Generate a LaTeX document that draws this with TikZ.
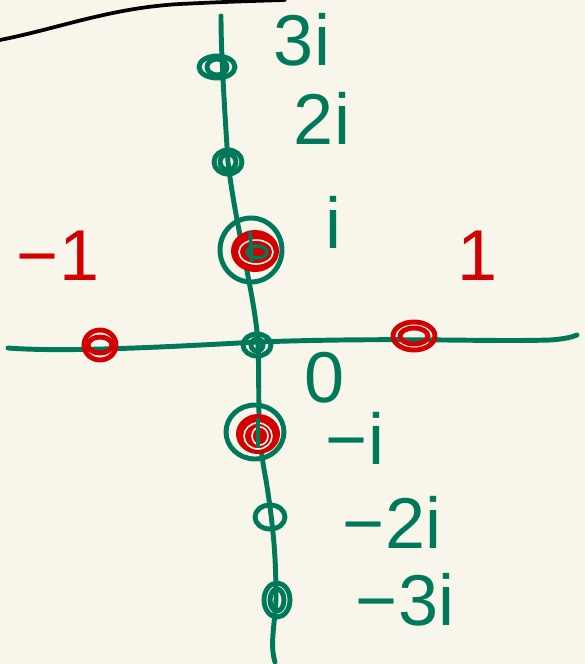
\documentclass[tikz,border=0pt]{standalone}
\usepackage{fontspec}
\setmainfont{Liberation Sans}
\definecolor{bg}{HTML}{F8F6EA}
\definecolor{pen}{HTML}{00785A}
\definecolor{rpen}{HTML}{D20000}
\tikzset{
  gstroke/.style={draw=pen,line width=3.7pt,line cap=round,line join=round},
  rstroke/.style={draw=rpen,line width=3.7pt,line cap=round,line join=round},
  glabel/.style={text=pen,font=\fontsize{54}{54}\selectfont,inner sep=0pt},
  rlabel/.style={text=rpen,font=\fontsize{54}{54}\selectfont,inner sep=0pt},
}
\begin{document}
\begin{tikzpicture}[x=0.75pt,y=-0.75pt]
\fill[bg] (0,0) rectangle (585,664);
\useasboundingbox (0,0) rectangle (585,664);
% black curve
\draw[black,line width=2.8pt,line cap=round] (0,40) .. controls (60,28) and (110,8) .. (180,4) .. controls (220,2) and (250,1) .. (285,0);
% axes
\coordinate (vtop) at (221,16);
\coordinate (vbot) at (275,662);
\coordinate (hl) at (8,348);
\coordinate (hr) at (577,335);
\draw[gstroke] (vtop) .. controls (221,40) and (222,70) .. (228,162)
  .. controls (236,230) and (256,300) .. (258,345)
  .. controls (260,400) and (256,430) .. (266,480)
  .. controls (274,530) and (276,560) .. (276,600)
  .. controls (274,630) and (270,645) .. (vbot);
\draw[gstroke] (hl) .. controls (60,352) and (150,348) .. (257,342)
  .. controls (400,337) and (480,342) .. (550,340) .. controls (565,339) and (572,337) .. (hr);
% points
\coordinate (p3) at (217,67);
\coordinate (p2) at (228,162);
\coordinate (p1) at (251,250);
\coordinate (p0) at (257,345);
\coordinate (m1) at (255,432);
\coordinate (m2) at (270,517);
\coordinate (m3) at (277,600);
\coordinate (n1) at (100,345);
\coordinate (q1) at (414,336);
\draw[gstroke] (p3) ellipse [x radius=18,y radius=11];
\draw[gstroke] (p3) ellipse [x radius=10,y radius=8];
\draw[gstroke] (p2) ellipse [x radius=14,y radius=12];
\draw[gstroke] (p2) ellipse [x radius=8,y radius=8];
\draw[gstroke] (p0) ellipse [x radius=14,y radius=11];
\draw[gstroke] (p0) ellipse [x radius=6,y radius=6];
\draw[gstroke] (m2) ellipse [x radius=15,y radius=12];
\draw[gstroke] (m3) ellipse [x radius=13,y radius=17];
\draw[gstroke] (m3) ellipse [x radius=7,y radius=11];
% red scribbles with green rings
\draw[gstroke] (p1) ellipse [x radius=31,y radius=32];
\fill[rpen] (255,251) ellipse [x radius=24,y radius=21];
\draw[draw=bg,line width=1.2pt] (256,252) ellipse [x radius=17,y radius=12];
\draw[draw=pen,line width=2.6pt] (257,252) ellipse [x radius=10,y radius=6];
\draw[draw=pen,line width=2.6pt] (250,232) -- (252,262);
\draw[gstroke] (m1) ellipse [x radius=29,y radius=27];
\fill[rpen] (258,434) ellipse [x radius=22,y radius=20];
\draw[draw=bg,line width=1.2pt] (258,436) ellipse [x radius=14,y radius=13];
\draw[draw=bg,line width=1.2pt] (260,436) ellipse [x radius=8,y radius=9];
\draw[draw=pen,line width=2.6pt] (258,418) -- (258,448);
\draw[rstroke] (n1) ellipse [x radius=16,y radius=15];
\draw[rstroke] (n1) ellipse [x radius=12,y radius=8];
\draw[rstroke] (q1) ellipse [x radius=21,y radius=14];
\draw[rstroke] (q1) ellipse [x radius=14,y radius=8];
% labels
\node[glabel] (l3) at (302,40) {3i};
\node[glabel] (l2) at (322,118) {2i};
\node[glabel] (l1) at (333,222) {i};
\node[glabel] (l0) at (325,378) {0};
\node[glabel] (lm1) at (355,438) {−i};
\node[glabel] (lm2) at (392,522) {−2i};
\node[glabel] (lm3) at (405,600) {−3i};
\node[rlabel] (ln1) at (58,256) {−1};
\node[rlabel] (lq1) at (478,256) {1};
\end{tikzpicture}
\end{document}
